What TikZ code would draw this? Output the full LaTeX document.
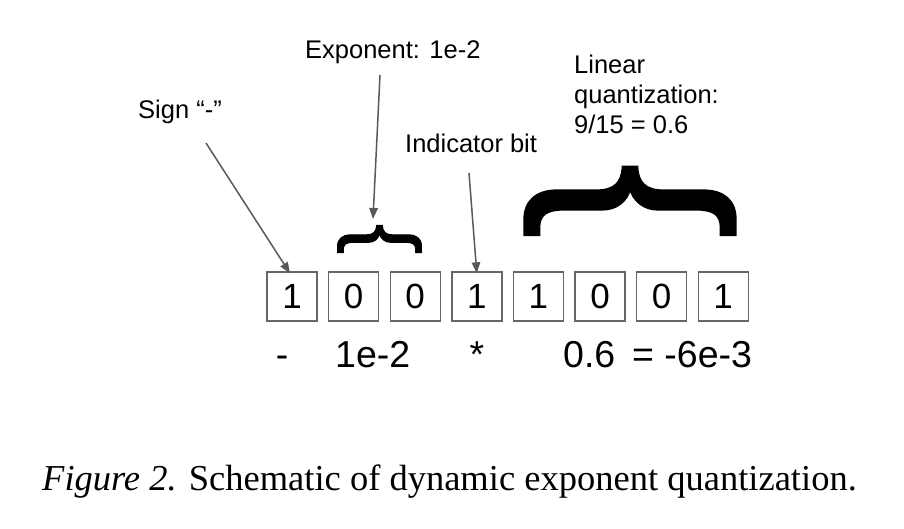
\documentclass[tikz,border=0pt]{standalone}
\usepackage{fontspec}
\setmainfont{Liberation Serif}
\newfontfamily\arialfont{Liberation Sans}
\newfontfamily\bracefont{Liberation Sans}[FakeBold=1.2]
\usetikzlibrary{arrows.meta}
\begin{document}
\begin{tikzpicture}[x=1pt,y=-1pt,
  bitbox/.style={draw=black!60,line width=1.4pt,minimum width=50pt,minimum height=49pt,inner sep=0pt,
    font=\arialfont\fontsize{35}{38}\selectfont},
  lbl/.style={anchor=base west,inner sep=0pt,font=\arialfont\fontsize{25.5}{30}\selectfont},
  val/.style={anchor=base west,inner sep=0pt,font=\arialfont\fontsize{37.5}{42}\selectfont},
  ptr/.style={draw=black!65,line width=1.5pt,-{Triangle[length=11pt,width=8.5pt]}},
  bracetext/.style={inner sep=0pt,rotate=-90}]
\fill[white] (0,0) rectangle (904,528);
\useasboundingbox (0,0) rectangle (904,528);
% bits
\foreach \i/\d in {0/1,1/0,2/0,3/1,4/1,5/0,6/0,7/1}
  \node[bitbox] (b\i) at ({292+61.6*\i},296.5) {\d};
% values below
\node[val,anchor=base] (vsign) at (282,367) {-};
\node[val] (vexp) at (335,367) {1e-2};
\node[val,anchor=base] (vind) at (477,367) {*};
\node[val] (vlin) at (563,367) {0.6\hspace{0.45em}= -6e-3};
% labels
\node[lbl] (lsign) at (138,118) {Sign “-”};
\node[lbl] (lexp) at (305,58) {Exponent: 1e-2};
\node[lbl] (lind) at (405,152) {Indicator bit};
\node[anchor=north west,inner sep=0pt,align=left,font=\arialfont\fontsize{25.5}{30}\selectfont] (llin) at (574,55)
  {Linear\\quantization:\\9/15 = 0.6};
% braces
\node[bracetext] (sbrace) at (379.5,239) {\bracefont\fontsize{90}{90}\selectfont\{};
\node[bracetext] (bbrace) at (630,201) {\bracefont\fontsize{226}{226}\selectfont\{};
% arrows
\coordinate (signtail) at (206,143);
\coordinate (exptail) at (380,75);
\coordinate (exphead) at (373,219);
\coordinate (indtail) at (469,173);
\draw[ptr] (signtail) -- ([xshift=-2pt,yshift=-2pt]b0.north);
\draw[ptr] (exptail) -- (exphead);
\draw[ptr] (indtail) -- ([yshift=-2pt]b3.north);
% caption
\node[anchor=base west,inner sep=0pt,font=\fontsize{36.5}{40}\selectfont] (cap) at (42,490)
  {\textit{Figure 2.} Schematic of dynamic exponent quantization.};
\end{tikzpicture}
\end{document}
